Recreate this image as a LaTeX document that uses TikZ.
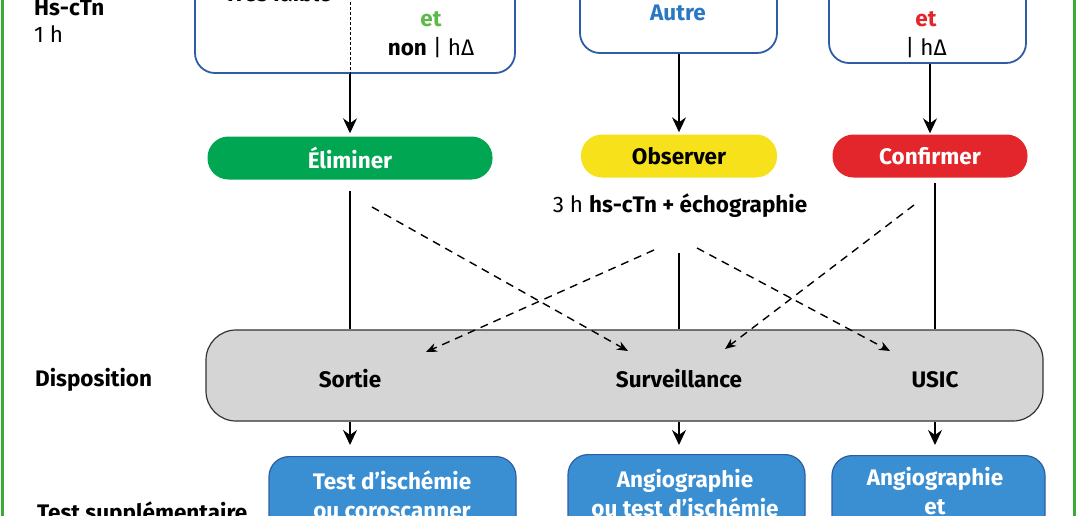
\documentclass[tikz,border=0pt]{standalone}
\usepackage{fontspec}
\setmainfont{Fira Sans}
\usetikzlibrary{positioning,arrows.meta}
\definecolor{cadre}{HTML}{3AAA35}
\definecolor{vert}{HTML}{00A651}
\definecolor{vertclair}{HTML}{5DB94A}
\definecolor{jaune}{HTML}{F7E11B}
\definecolor{rouge}{HTML}{E3262C}
\definecolor{bleu}{HTML}{3A8FD2}
\definecolor{bleufonce}{HTML}{2E5DA6}
\definecolor{bleutexte}{HTML}{2B78C2}
\definecolor{gris}{HTML}{D5D5D5}
\newcommand\taille{\fontsize{22.5}{29}\selectfont}

\begin{document}
\begin{tikzpicture}[x=1pt, y=-1pt, node distance=2cm, auto,
  every node/.style={font=\taille, inner sep=0pt},
  gras/.style={font=\taille\bfseries},
  critere/.style={draw=bleufonce, line width=1.8pt, rounded corners=20pt},
  pill/.style={rounded corners=21pt, minimum height=43pt, font=\taille\bfseries},
  bloc/.style={draw=black!80, fill=gris, line width=1.2pt, rounded corners=30pt},
  examen/.style={draw=bleufonce, fill=bleu, line width=1.2pt, rounded corners=20pt, minimum height=120pt, anchor=north},
  fleche/.style={-{Stealth[length=15pt, width=14pt, inset=5pt]}, line width=1.6pt},
  pointille/.style={dashed, dash pattern=on 8pt off 6pt, line width=1.4pt, -{Stealth[length=11pt, width=9pt]}}]
\useasboundingbox (0,0) rectangle (1078,516);
\clip (0,0) rectangle (1078,516);
% cadre
\draw[cadre, line width=3pt] (2,-10) -- (2,530);
\draw[cadre, line width=3pt] (1074,-10) -- (1074,530);
% colonne de gauche
\node[anchor=base west, gras] (hs) at (34,16) {Hs-cTn};
\node[anchor=base west] (une) at (34,43) {1 h};
\node[anchor=base west, gras] (disp) at (35,386) {Disposition};
\node[anchor=base west, gras] (supp) at (37,520) {Test supplémentaire};
% criteres
\node[critere, minimum width=320pt, minimum height=230pt] (crit1) at (355,-42) {};
\node[critere, minimum width=197pt, minimum height=230pt] (crit2) at (678.5,-62) {};
\node[critere, minimum width=197pt, minimum height=230pt] (crit3) at (927.5,-52) {};
\node[anchor=base, gras] (tf) at (278,2) {Très faible};
\node[anchor=base, gras, text=vertclair] (et1) at (431,27) {et};
\node[anchor=base] (non1) at (431,56) {\textbf{non} | hΔ};
\node[anchor=base, gras, text=bleutexte] (autre) at (678,21) {Autre};
\node[anchor=base, gras, text=rouge] (et3) at (926,27) {et};
\node[anchor=base] (oui3) at (926,56) {| hΔ};
% decisions
\node[pill, fill=vert, text=white, minimum width=285pt] (elim) at (350,158) {Éliminer};
\node[pill, fill=jaune, text=black, minimum width=196pt] (obs) at (679,156) {Observer};
\node[pill, fill=rouge, text=white, minimum width=195pt] (conf) at (930,156) {Confirmer};
\node[anchor=base] (note) at (680,212) {3 h \textbf{hs-cTn + échographie}};
\draw[line width=1pt, dashed, dash pattern=on 3pt off 2pt] (crit1.north -| elim) -- (crit1.south -| elim);
\draw[fleche, shorten >=3pt] (crit1.south -| elim) -- (elim.north);
\draw[fleche, shorten >=2pt] (crit2.south -| obs) -- (obs.north);
\draw[fleche, shorten >=1pt] (crit3.south -| conf) -- (conf.north);
% disposition
\node[bloc, minimum width=837pt, minimum height=91pt] (bloc) at (624.5,375.5) {};
\node[anchor=base, gras] (sortie) at (350,387) {Sortie};
\node[anchor=base, gras] (surv) at (679,387) {Surveillance};
\node[anchor=base, gras] (usic) at (935,387) {USIC};
\draw[line width=1.6pt, shorten <=11pt] (elim.south) -- (elim.south |- bloc.north);
\draw[line width=1.6pt] (note.south -| surv) ++(0,36) -- (surv |- bloc.north);
\draw[line width=1.6pt, shorten <=5pt] (conf.south -| usic) -- (usic |- bloc.north);
\coordinate (d1) at (372,207);
\coordinate (d2) at (654,250);
\coordinate (d3) at (697,248);
\coordinate (d4) at (914,205);
\coordinate (a1) at (628,351);
\coordinate (a2) at (426,352);
\coordinate (a3) at (890,351);
\coordinate (a4) at (725,349);
\draw[pointille] (d1) -- (a1);
\draw[pointille] (d2) -- (a2);
\draw[pointille] (d3) -- (a3);
\draw[pointille] (d4) -- (a4);
% examens
\node[examen, minimum width=247pt] (exA) at (392.5,456) {};
\node[examen, minimum width=237pt] (exB) at (686.5,454) {};
\node[examen, minimum width=213pt] (exC) at (938.5,455) {};
\node[anchor=base, gras, text=white, align=center] (txA) at (392,518) {Test d’ischémie\\ou coroscanner};
\node[anchor=base, gras, text=white, align=center] (txB) at (685,516) {Angiographie\\ou test d’ischémie};
\node[anchor=base, gras, text=white, align=center] (txC) at (935,514) {Angiographie\\et};
\draw[fleche, shorten >=11pt] (bloc.south -| sortie) -- (exA.north -| sortie);
\draw[fleche, shorten >=9pt] (bloc.south -| surv) -- (exB.north -| surv);
\draw[fleche, shorten >=10pt] (bloc.south -| usic) -- (exC.north -| usic);
\end{tikzpicture}
\end{document}
